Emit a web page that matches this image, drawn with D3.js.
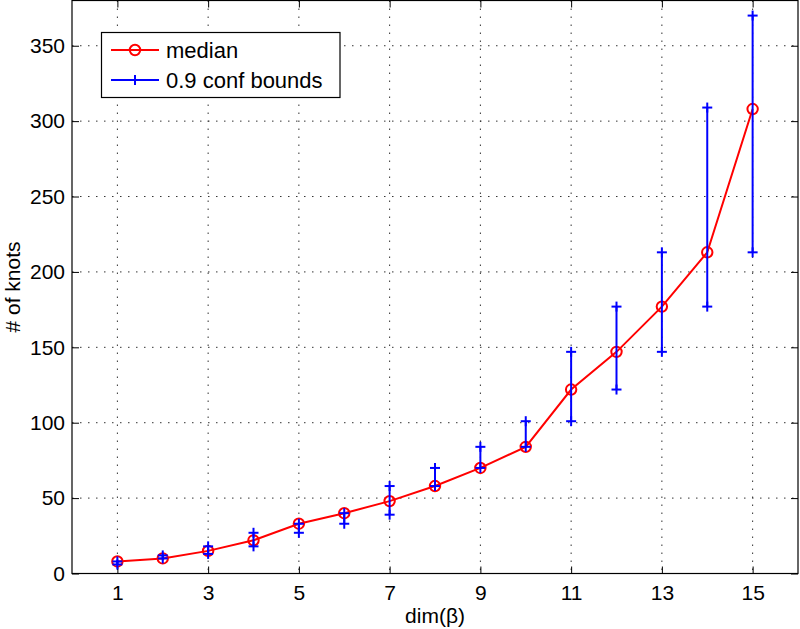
<!DOCTYPE html>
<html>
<head>
<meta charset="utf-8">
<script src="https://cdn.jsdelivr.net/npm/d3@7"></script>
<style>
  body { margin: 0; background: #fff; }
  text { font-family: "Liberation Sans", Arial, Helvetica, sans-serif; fill: #000; }
  .grid line { stroke: #333; stroke-width: 1; stroke-dasharray: 1.5,6.5; }
</style>
</head>
<body>
<script>
(function () {

    //chart data
    var dims = [1, 2, 3, 4, 5, 6, 7, 8, 9, 10, 11, 12, 13, 14, 15];
    var medianKnots = [8, 10, 15, 22, 33, 40, 48, 58, 70, 84, 122, 147, 177, 213, 308];
    var lowerBound = [6, 10, 13, 18, 27, 33, 39, 58, 70, 84, 101, 122, 147, 177, 213];
    var upperBound = [8, 12, 18, 27, 33, 40, 58, 70, 84, 101, 147, 177, 213, 309, 370];
    var xTicks = [1, 3, 5, 7, 9, 11, 13, 15];
    var yTicks = [0, 50, 100, 150, 200, 250, 300, 350];
    var legendLabels = ["median", "0.9 conf bounds"];

    var width = 800, height = 629;
    var left = 72, right = 798, top = 0.5, bottom = 573.5;

    var svg = d3.select("body").append("svg")
        .attr("width", width)
        .attr("height", height);

    var x = d3.scaleLinear().domain([0, 16]).range([left, right]);
    var y = d3.scaleLinear().domain([0, 380]).range([bottom, top]);

    //dotted grid
    var grid = svg.append("g").attr("class", "grid");
    grid.selectAll(".vgrid").data(xTicks).enter().append("line")
        .attr("x1", function (d) { return x(d); })
        .attr("x2", function (d) { return x(d); })
        .attr("y1", top).attr("y2", bottom);
    grid.selectAll(".hgrid").data(yTicks.slice(1)).enter().append("line")
        .attr("y1", function (d) { return y(d); })
        .attr("y2", function (d) { return y(d); })
        .attr("x1", left).attr("x2", right);

    //axes with inward ticks, mirrored on top and right
    var fs = "21px";
    var xAxis = svg.append("g").attr("transform", "translate(0," + bottom + ")")
        .call(d3.axisBottom(x).tickValues(xTicks).tickSize(-7).tickPadding(12));
    var yAxis = svg.append("g").attr("transform", "translate(" + left + ",0)")
        .call(d3.axisLeft(y).tickValues(yTicks).tickSize(-7).tickPadding(7));
    var xTop = svg.append("g").attr("transform", "translate(0," + top + ")")
        .call(d3.axisTop(x).tickValues(xTicks).tickSize(-7).tickFormat(""));
    var yRight = svg.append("g").attr("transform", "translate(" + right + ",0)")
        .call(d3.axisRight(y).tickValues(yTicks).tickSize(-7).tickFormat(""));

    [xAxis, yAxis, xTop, yRight].forEach(function (g) {
        g.select(".domain").remove();
        g.selectAll(".tick line").attr("stroke", "#000").attr("stroke-width", 1);
        g.selectAll("text").style("font-size", fs)
            .style("font-family", "'Liberation Sans', Arial, sans-serif")
            .attr("fill", "#000");
    });
    xAxis.selectAll("text").attr("dy", "0.71em");

    //box
    svg.append("rect")
        .attr("x", left).attr("y", top)
        .attr("width", right - left).attr("height", bottom - top)
        .attr("fill", "none").attr("stroke", "#000").attr("stroke-width", 1.2);

    //median line
    var line = d3.line()
        .x(function (d, i) { return x(dims[i]); })
        .y(function (d) { return y(d); });
    svg.append("path")
        .datum(medianKnots)
        .attr("d", line)
        .attr("fill", "none").attr("stroke", "#ff0000").attr("stroke-width", 2);
    svg.selectAll(".med").data(medianKnots).enter().append("circle")
        .attr("cx", function (d, i) { return x(dims[i]); })
        .attr("cy", function (d) { return y(d); })
        .attr("r", 5.2)
        .attr("fill", "none").attr("stroke", "#ff0000").attr("stroke-width", 2);

    //confidence bounds
    var blue = "#0000ff";
    var bars = svg.append("g");
    dims.forEach(function (dm, i) {
        var cx = x(dm);
        bars.append("line")
            .attr("x1", cx).attr("x2", cx)
            .attr("y1", y(lowerBound[i])).attr("y2", y(upperBound[i]))
            .attr("stroke", blue).attr("stroke-width", 2);
        [lowerBound[i], upperBound[i]].forEach(function (v) {
            drawPlus(bars, cx, y(v));
        });
    });

    function drawPlus(g, cx, cy) {
        var h = 5;
        g.append("line").attr("x1", cx - h).attr("x2", cx + h)
            .attr("y1", cy).attr("y2", cy)
            .attr("stroke", blue).attr("stroke-width", 2);
        g.append("line").attr("x1", cx).attr("x2", cx)
            .attr("y1", cy - h).attr("y2", cy + h)
            .attr("stroke", blue).attr("stroke-width", 2);
    }

    //legend
    var lg = svg.append("g");
    lg.append("rect")
        .attr("x", 101.5).attr("y", 32.5)
        .attr("width", 238.5).attr("height", 65)
        .attr("fill", "#fff").attr("stroke", "#000").attr("stroke-width", 1.2);
    var rowY = [50, 80];
    lg.append("line").attr("x1", 111).attr("x2", 159).attr("y1", rowY[0]).attr("y2", rowY[0])
        .attr("stroke", "#ff0000").attr("stroke-width", 2);
    lg.append("circle").attr("cx", 135).attr("cy", rowY[0]).attr("r", 5.2)
        .attr("fill", "none").attr("stroke", "#ff0000").attr("stroke-width", 2);
    lg.append("line").attr("x1", 111).attr("x2", 159).attr("y1", rowY[1]).attr("y2", rowY[1])
        .attr("stroke", blue).attr("stroke-width", 2);
    drawPlus(lg, 135, rowY[1]);
    lg.selectAll(".lt").data(legendLabels).enter().append("text")
        .attr("x", 166)
        .attr("y", function (d, i) { return rowY[i] + 8; })
        .style("font-size", "22px")
        .text(function (d) { return d; });

    //axis titles
    svg.append("text")
        .attr("x", (left + right) / 2).attr("y", 623)
        .attr("text-anchor", "middle")
        .style("font-size", "21px")
        .text("dim(β)");
    svg.append("text")
        .attr("transform", "translate(20," + ((top + bottom) / 2) + ") rotate(-90)")
        .attr("text-anchor", "middle")
        .style("font-size", "21px")
        .text("# of knots");

})();
</script>
</body>
</html>
